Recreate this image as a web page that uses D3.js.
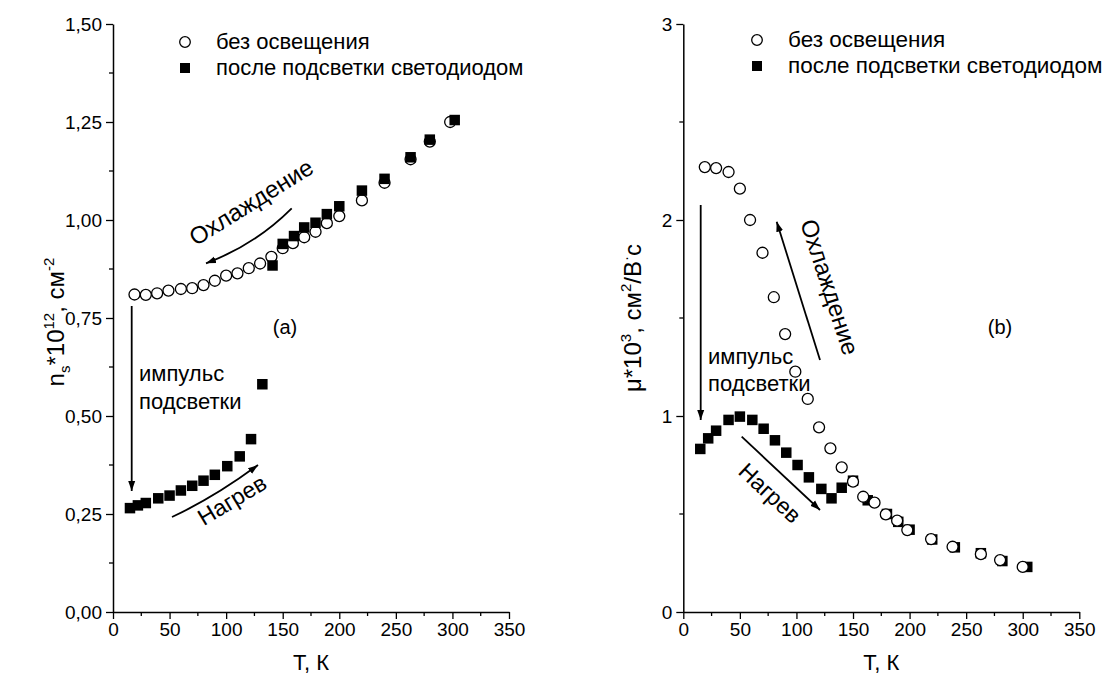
<!DOCTYPE html>
<html><head><meta charset="utf-8">
<script src="https://cdn.jsdelivr.net/npm/d3@7/dist/d3.min.js"></script>
<style>
body{margin:0;background:#fff;}
svg{font-family:"Liberation Sans",Arial,sans-serif;}
</style></head>
<body>
<svg id="chart" width="1118" height="686"></svg>
<script>
// ---- data ----
// Panel (a): n_s * 10^12, cm^-2
const aDarkT = [19,29,39,49,60,70,80,90,100,110,120,130,140,150,159,169,179,189,200,220,240,263,280,298];
const aDarkV = [0.81,0.809,0.813,0.82,0.824,0.826,0.834,0.845,0.858,0.864,0.877,0.889,0.906,0.928,0.941,0.956,0.970,0.992,1.01,1.05,1.095,1.155,1.20,1.25];
const aLedT = [15,22,29,40,50,60,70,80,90,101,112,122,132,141,150,160,169,179,189,200,220,240,263,280,302];
const aLedV = [0.265,0.272,0.278,0.29,0.297,0.31,0.322,0.335,0.35,0.372,0.397,0.441,0.581,0.884,0.939,0.959,0.981,0.993,1.015,1.035,1.075,1.105,1.16,1.205,1.255];
// Panel (b): mu * 10^3, cm^2/V s
const bDarkT = [19,29,40,50,59,70,80,90,99,110,120,130,140,150,159,169,179,189,198,219,238,263,280,300];
const bDarkV = [2.27,2.265,2.245,2.16,2.0,1.833,1.606,1.418,1.226,1.087,0.942,0.835,0.738,0.665,0.588,0.558,0.498,0.466,0.418,0.372,0.333,0.295,0.265,0.23];
const bLedT = [15,22,29,40,50,61,71,81,91,101,111,122,131,140,150,163,180,190,200,220,240,263,282,304];
const bLedV = [0.832,0.886,0.925,0.98,0.997,0.98,0.935,0.876,0.813,0.75,0.687,0.628,0.58,0.634,0.67,0.57,0.5,0.46,0.42,0.37,0.33,0.3,0.26,0.23];

const xTicks = [0,50,100,150,200,250,300,350];
const aYTicks = [0,0.25,0.5,0.75,1.0,1.25,1.5];
const bYTicks = [0,1,2,3];
const legendLabels = ["без освещения","после подсветки светодиодом"];

const svg = d3.select("#chart");
const defs = svg.append("defs");
defs.append("marker").attr("id","ah").attr("viewBox","0 0 10 10").attr("refX",10).attr("refY",5)
  .attr("markerWidth",10).attr("markerHeight",10).attr("markerUnits","userSpaceOnUse").attr("orient","auto")
  .append("path").attr("d","M0,1.5 L10,5 L0,8.5 Z").attr("fill","#000");

function fmtComma(d){ return d3.format(".2f")(d).replace(".", ","); }

function panel(opt){
  const x = d3.scaleLinear().domain([0,350]).range([opt.x0, opt.x0+396]);
  const y = d3.scaleLinear().domain([0,opt.ymax]).range([612,24]);
  const g = svg.append("g");
  const xm = d3.range(25,350,50);
  g.selectAll(".xm").data(xm).enter().append("line")
    .attr("x1",d=>x(d)).attr("x2",d=>x(d)).attr("y1",612).attr("y2",616).attr("stroke","#000").attr("stroke-width",1.3);
  g.selectAll(".ym").data(opt.yMinor).enter().append("line")
    .attr("x1",x(0)-4).attr("x2",x(0)).attr("y1",d=>y(d)).attr("y2",d=>y(d)).attr("stroke","#000").attr("stroke-width",1.3);
  const xa = g.append("g").attr("transform","translate(0,612)")
    .call(d3.axisBottom(x).tickValues(xTicks).tickSize(7).tickSizeOuter(0).tickPadding(4));
  const ya = g.append("g").attr("transform",`translate(${x(0)},0)`)
    .call(d3.axisLeft(y).tickValues(opt.yTicks).tickSize(7).tickSizeOuter(0).tickPadding(4).tickFormat(opt.fmt));
  [xa,ya].forEach(a=>{
    a.select(".domain").attr("stroke-width",1.5);
    a.selectAll(".tick line").attr("stroke-width",1.3);
    a.selectAll("text").attr("font-size",19).attr("fill","#000").attr("font-family","Liberation Sans, Arial, sans-serif");
  });
  g.append("text").attr("x",x(175)).attr("y",670).attr("text-anchor","middle").attr("font-size",22).text("T, К");
  return {x,y,g};
}

function circles(p, T, V){
  p.g.append("g").selectAll("circle").data(T.map((t,i)=>[t,V[i]])).enter().append("circle")
    .attr("cx",d=>p.x(d[0])).attr("cy",d=>p.y(d[1])).attr("r",5.5)
    .attr("fill","#fff").attr("stroke","#000").attr("stroke-width",1.3);
}
function squares(p, T, V){
  const s=10.5;
  p.g.append("g").selectAll("rect").data(T.map((t,i)=>[t,V[i]])).enter().append("rect")
    .attr("x",d=>p.x(d[0])-s/2).attr("y",d=>p.y(d[1])-s/2).attr("width",s).attr("height",s).attr("fill","#000");
}
function legend(x0, y0, fs){
  svg.append("circle").attr("cx",x0).attr("cy",y0).attr("r",5.3).attr("fill","#fff").attr("stroke","#000").attr("stroke-width",1.3);
  svg.append("rect").attr("x",x0-5).attr("y",y0+26-5).attr("width",10).attr("height",10).attr("fill","#000");
  legendLabels.forEach((l,i)=>{
    svg.append("text").attr("x",x0+31).attr("y",y0+i*26+7).attr("font-size",fs).text(l);
  });
}
function arrow(d){
  svg.append("path").attr("d",d).attr("fill","none").attr("stroke","#000").attr("stroke-width",1.8).attr("marker-end","url(#ah)");
}
function rtext(txt,cx,cy,ang,size){
  svg.append("text").attr("transform",`translate(${cx},${cy}) rotate(${ang})`).attr("text-anchor","middle")
    .attr("dominant-baseline","central").attr("font-size",size).text(txt);
}

// ---- Panel (a) ----
const pa = panel({x0:113, ymax:1.5, yTicks:aYTicks, yMinor:d3.range(0.125,1.5,0.25), fmt:fmtComma});
circles(pa, aDarkT, aDarkV);
squares(pa, aLedT, aLedV);
legend(185, 42, 22);
const ta = svg.append("text").attr("transform","translate(64,322) rotate(-90)").attr("text-anchor","middle").attr("font-size",24);
ta.append("tspan").text("n");
ta.append("tspan").attr("font-size",15).attr("dy",6).text("s");
ta.append("tspan").attr("dy",-6).text("*10");
ta.append("tspan").attr("font-size",15).attr("dy",-10).text("12");
ta.append("tspan").attr("dy",10).text(", см");
ta.append("tspan").attr("font-size",15).attr("dy",-10).text("-2");
arrow("M131.7,306 L131.7,491");
svg.append("text").attr("x",139).attr("y",381).attr("font-size",22).text("импульс");
svg.append("text").attr("x",139).attr("y",409).attr("font-size",22).text("подсветки");
arrow("M291.7,208.3 Q255,245 206,263.3");
rtext("Охлаждение",251,202,-32,24);
arrow("M172,517 Q215,497 258,465");
rtext("Нагрев",232,500,-31,23);
svg.append("text").attr("x",285).attr("y",334).attr("text-anchor","middle").attr("font-size",20).text("(a)");

// ---- Panel (b) ----
const pb = panel({x0:683.3, ymax:3, yTicks:bYTicks, yMinor:[0.5,1.5,2.5], fmt:d3.format("d")});
squares(pb, bLedT, bLedV);
circles(pb, bDarkT, bDarkV);
legend(757, 40, 22.5);
const tb = svg.append("text").attr("transform","translate(641,318) rotate(-90)").attr("text-anchor","middle").attr("font-size",24);
tb.append("tspan").text("μ*10");
tb.append("tspan").attr("font-size",15).attr("dy",-10).text("3");
tb.append("tspan").attr("dy",10).text(", см");
tb.append("tspan").attr("font-size",15).attr("dy",-10).text("2");
tb.append("tspan").attr("dy",10).text("/В");
tb.append("tspan").attr("font-size",15).attr("dy",-10).text("·");
tb.append("tspan").attr("dy",10).text("с");
arrow("M700.7,205 L700.7,420");
svg.append("text").attr("x",708).attr("y",364).attr("font-size",22).text("импульс");
svg.append("text").attr("x",708).attr("y",391).attr("font-size",22).text("подсветки");
arrow("M820,360 L776.7,221.7");
rtext("Охлаждение",830,287,72,24);
arrow("M741.7,436.7 L820,510");
rtext("Нагрев",770,493,43,23);
svg.append("text").attr("x",1000).attr("y",334).attr("text-anchor","middle").attr("font-size",20).text("(b)");
</script>
</body></html>
